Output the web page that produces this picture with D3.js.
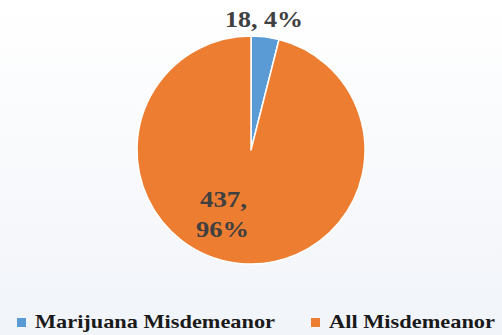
<!DOCTYPE html>
<html>
<head>
<meta charset="utf-8">
<script src="https://cdn.jsdelivr.net/npm/d3@7"></script>
<style>
  html, body { margin: 0; padding: 0; }
  svg { display: block; }
</style>
</head>
<body>
<svg width="502" height="335"></svg>
<script>
  // data
  const categories = ["Marijuana Misdemeanor", "All Misdemeanor"];
  const values = [18, 437];
  const percents = ["4%", "96%"];
  const colors = ["#5b9bd5", "#ed7d31"];

  const width = 502;
  const height = 335;
  const cx = 251, cy = 150, r = 114;
  const font = "Liberation Serif";

  const svg = d3.select("svg");

  // background gradient
  const grad = svg.append("defs").append("linearGradient")
      .attr("id", "bg").attr("x1", 0).attr("y1", 0).attr("x2", 0).attr("y2", 1);
  grad.append("stop").attr("offset", "0%").attr("stop-color", "#ffffff");
  grad.append("stop").attr("offset", "100%").attr("stop-color", "#f1f4f9");
  svg.append("rect").attr("width", width).attr("height", height).attr("fill", "url(#bg)");

  const data = categories.map((c, i) => ({ name: c, value: values[i], pct: percents[i], color: colors[i] }));

  const pie = d3.pie().value(d => d.value).sort(null);
  const arc = d3.arc().innerRadius(0).outerRadius(r);
  const arcs = pie(data);

  const g = svg.append("g").attr("transform", `translate(${cx},${cy})`);
  g.selectAll("path")
    .data(arcs)
    .enter().append("path")
      .attr("d", arc)
      .attr("fill", d => d.data.color)
      .attr("stroke", "#ffffff")
      .attr("stroke-width", 1.5)
      .attr("stroke-linejoin", "round");

  // data labels (reference text is a bit stretched horizontally)
  const label = (x, y, w, txt) => svg.append("text")
      .attr("x", x).attr("y", y)
      .attr("font-family", font).attr("font-weight", "bold")
      .attr("font-size", 24).attr("fill", "#404040")
      .attr("textLength", w).attr("lengthAdjust", "spacingAndGlyphs")
      .text(txt);
  label(225, 27, 78, `${data[0].value}, ${data[0].pct}`);
  label(200, 207, 47, `${data[1].value},`);
  label(196, 237, 53, data[1].pct);

  // legend
  const legendX = [17, 311];
  const legendW = [240, 166];
  const legend = svg.selectAll(".legend")
    .data(data)
    .enter().append("g")
      .attr("class", "legend")
      .attr("transform", (d, i) => `translate(${legendX[i]},318)`);
  legend.append("rect")
      .attr("width", 9).attr("height", 9)
      .attr("fill", d => d.color);
  legend.append("text")
      .attr("x", 18).attr("y", 10)
      .attr("font-family", font).attr("font-weight", "bold")
      .attr("font-size", 19).attr("fill", "#1a1a1a")
      .attr("textLength", (d, i) => legendW[i]).attr("lengthAdjust", "spacingAndGlyphs")
      .text(d => d.name);
</script>
</body>
</html>
